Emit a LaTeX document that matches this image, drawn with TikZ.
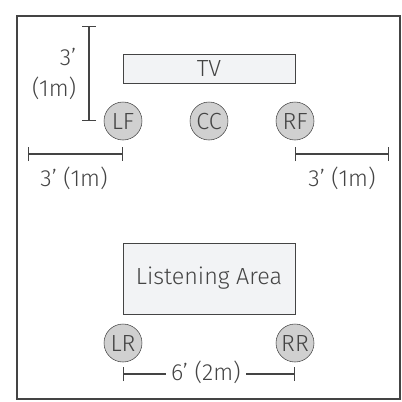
\documentclass[tikz,border=0pt]{standalone}
\usepackage{fontspec}
\setmainfont{Fira Sans Light}
\usepackage{tikz}
\usetikzlibrary{arrows.meta,positioning}
\definecolor{inkgray}{HTML}{444444}
\definecolor{spkfill}{HTML}{D0D0D0}
\definecolor{boxfill}{HTML}{F2F3F5}
\tikzset{spk/.style={draw=inkgray, fill=spkfill, circle, inner sep=0pt, minimum size=28.5pt, text=inkgray}}
\tikzstyle{furn}=[draw=inkgray, fill=boxfill, rectangle, inner sep=0pt, text=inkgray]
\tikzstyle{dim}=[draw=inkgray, line width=0.8pt, {Bar[width=10.5pt]}-{Bar[width=10.5pt]}]

\begin{document}
\begin{tikzpicture}[x=0.75pt, y=-0.75pt, font=\fontsize{17.5}{23}\selectfont, text=inkgray]
\useasboundingbox (0,0) rectangle (402,401);
\draw[inkgray, line width=1pt] (17,16) rectangle (400,399);

\node[furn, minimum width=129pt, minimum height=21.75pt] (TV) at (209,68.5) {TV};
\node[spk] (LF) at (123,121) {LF};
\node[spk] (CC) at (209,121) {CC};
\node[spk] (RF) at (295,121) {RF};

\node[furn, minimum width=129pt, minimum height=53.25pt] (LA) at (209,278.5) {Listening Area};
\node[spk] (LR) at (123,343) {LR};
\node[spk] (RR) at (295,343) {RR};

% vertical distance TV to front speakers
\coordinate (vtop) at (89,26);
\coordinate (vbot) at (89,121);
\draw[dim] (vtop) -- (vbot);
\node[align=right, anchor=east] (vlab) at (81,74) {3’\\(1m)};

% side distances
\coordinate (lout) at (28,154);
\coordinate (lin) at (LF |- lout);
\draw[dim] (lout) -- (lin);
\node (llab) at (74,178) {3’ (1m)};
\coordinate (rin) at (RF |- lout);
\coordinate (rout) at (389,154);
\draw[dim] (rin) -- (rout);
\node (rlab) at (342,178) {3’ (1m)};

% rear spacing
\coordinate (bl) at (LR |- 0,374);
\coordinate (br) at (RR |- 0,374);
\node[inner sep=4pt] (blab) at (206,372) {6’ (2m)};
\draw[draw=inkgray, line width=0.8pt, {Bar[width=10.5pt]}-] (bl) -- (blab.west |- bl);
\draw[draw=inkgray, line width=0.8pt, -{Bar[width=10.5pt]}] (blab.east |- br) -- (br);
\end{tikzpicture}
\end{document}
